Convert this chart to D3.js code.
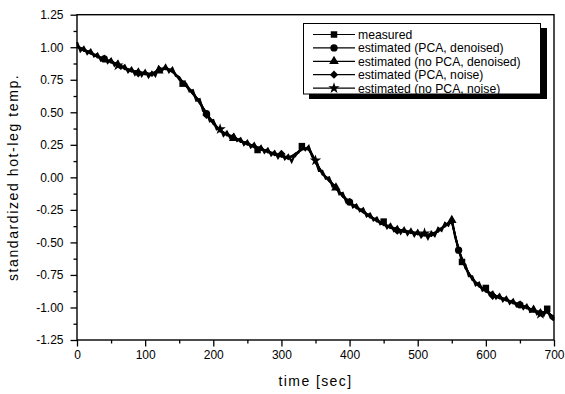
<html>
<head><meta charset="utf-8"></head>
<script src="https://d3js.org/d3.v7.min.js"></script>
<style>
  body { margin: 0; background: #fff; }
  text { font-family: "Liberation Sans", Arial, sans-serif; fill: #000; }
</style>
<body>
<svg id="chart" width="565" height="394"></svg>
<script>
// measured signal, every 5 s from 0 to 700
var measured = [
  1.04,0.97,1.00,0.95,0.98,0.93,0.95,0.90,0.93,0.88,
  0.91,0.86,0.89,0.84,0.86,0.81,0.84,0.79,0.83,0.78,
  0.82,0.77,0.81,0.78,0.85,0.82,0.86,0.81,0.84,0.78,
  0.77,0.72,0.72,0.66,0.67,0.59,0.60,0.51,0.50,0.43,
  0.44,0.37,0.38,0.32,0.35,0.30,0.33,0.28,0.30,0.25,
  0.28,0.23,0.26,0.21,0.24,0.19,0.22,0.17,0.20,0.15,
  0.19,0.14,0.17,0.12,0.18,0.19,0.24,0.21,0.24,0.16,
  0.13,0.05,0.05,-0.01,0.00,-0.07,-0.06,-0.13,-0.12,-0.19,
  -0.17,-0.23,-0.21,-0.26,-0.24,-0.30,-0.28,-0.33,-0.31,-0.36,
  -0.34,-0.39,-0.36,-0.41,-0.38,-0.43,-0.39,-0.44,-0.40,-0.45,
  -0.41,-0.46,-0.42,-0.47,-0.42,-0.45,-0.39,-0.41,-0.35,-0.37,
  -0.32,-0.46,-0.55,-0.65,-0.67,-0.76,-0.76,-0.83,-0.81,-0.87,
  -0.85,-0.90,-0.88,-0.93,-0.90,-0.95,-0.92,-0.97,-0.94,-0.99,
  -0.96,-1.01,-0.98,-1.03,-1.00,-1.05,-1.02,-1.06,-1.01,-1.08,
  -1.10
];

// estimates, every 10 s from 0 to 700
var estPcaDenoised = [
  1.01,0.98,0.96,0.93,0.91,0.89,0.87,0.84,0.82,0.81,
  0.80,0.79,0.83,0.84,0.82,0.76,0.71,0.65,0.58,0.49,
  0.42,0.36,0.33,0.31,0.28,0.26,0.24,0.22,0.20,0.18,
  0.17,0.15,0.17,0.22,0.22,0.12,0.03,-0.02,-0.08,-0.14,
  -0.19,-0.23,-0.26,-0.30,-0.33,-0.36,-0.38,-0.40,-0.41,-0.42,
  -0.43,-0.44,-0.44,-0.41,-0.37,-0.34,-0.56,-0.69,-0.78,-0.83,
  -0.87,-0.90,-0.92,-0.94,-0.96,-0.98,-1.00,-1.02,-1.04,-1.03,
  -1.08
];
var estNoPcaDenoised = [
  1.00,0.98,0.95,0.93,0.90,0.89,0.86,0.84,0.82,0.80,
  0.80,0.80,0.82,0.84,0.81,0.76,0.70,0.64,0.57,0.49,
  0.41,0.36,0.33,0.30,0.28,0.26,0.23,0.22,0.20,0.18,
  0.16,0.15,0.18,0.22,0.23,0.13,0.03,-0.03,-0.08,-0.15,
  -0.19,-0.23,-0.27,-0.30,-0.33,-0.36,-0.39,-0.40,-0.42,-0.42,
  -0.43,-0.44,-0.45,-0.41,-0.37,-0.33,-0.55,-0.70,-0.78,-0.84,
  -0.87,-0.90,-0.93,-0.94,-0.96,-0.98,-1.00,-1.02,-1.04,-1.04,
  -1.08
];
var estPcaNoise = [
  1.02,0.97,0.97,0.92,0.92,0.88,0.88,0.83,0.83,0.80,
  0.81,0.78,0.84,0.83,0.83,0.75,0.72,0.64,0.59,0.48,
  0.43,0.35,0.34,0.30,0.29,0.25,0.25,0.21,0.21,0.17,
  0.18,0.14,0.18,0.21,0.23,0.11,0.04,-0.03,-0.07,-0.15,
  -0.18,-0.24,-0.25,-0.31,-0.32,-0.37,-0.37,-0.41,-0.40,-0.43,
  -0.42,-0.45,-0.43,-0.42,-0.36,-0.35,-0.55,-0.70,-0.77,-0.84,
  -0.86,-0.91,-0.91,-0.95,-0.95,-0.99,-0.99,-1.03,-1.03,-1.04,
  -1.07
];
var estNoPcaNoise = [
  1.00,0.99,0.95,0.94,0.90,0.90,0.86,0.85,0.81,0.82,
  0.79,0.80,0.82,0.85,0.81,0.77,0.70,0.66,0.57,0.50,
  0.41,0.37,0.32,0.32,0.27,0.27,0.23,0.23,0.19,0.19,
  0.16,0.16,0.16,0.23,0.21,0.13,0.02,-0.01,-0.09,-0.13,
  -0.20,-0.22,-0.27,-0.29,-0.34,-0.35,-0.39,-0.39,-0.42,-0.41,
  -0.44,-0.43,-0.45,-0.40,-0.38,-0.33,-0.57,-0.68,-0.79,-0.82,
  -0.88,-0.89,-0.93,-0.93,-0.97,-0.97,-1.01,-1.01,-1.05,-1.02,
  -1.09
];

// times (s) where each series shows its symbol
var markTimesMeasured = [155, 265, 330, 450, 565, 600, 690];
var markTimesPcaDen = [40, 190, 400, 560, 650];
var markTimesNoPcaDen = [120, 230, 380, 550, 670];
var markTimesPcaNoise = [90, 190, 300, 470, 610];
var markTimesNoPcaNoise = [60, 210, 350, 510, 680];

var seriesNames = ["measured", "estimated (PCA, denoised)", "estimated (no PCA, denoised)",
                   "estimated (PCA, noise)", "estimated (no PCA, noise)"];
var xTicks = [0, 100, 200, 300, 400, 500, 600, 700];
var yTicks = [-1.25, -1.00, -0.75, -0.50, -0.25, 0.00, 0.25, 0.50, 0.75, 1.00, 1.25];

var svg = d3.select("#chart");
var pL = 77, pR = 554, pT = 14.7, pB = 340;

var x = d3.scaleLinear().domain([0, 700]).range([pL, pR]);
var y = d3.scaleLinear().domain([-1.25, 1.25]).range([pB, pT]);

function toPoints(vals, step) {
  return vals.map(function(v, i) { return {t: i * step, v: v}; });
}

var series = [
  {name: seriesNames[0], pts: toPoints(measured, 5), marks: markTimesMeasured, step: 5, sym: "square"},
  {name: seriesNames[1], pts: toPoints(estPcaDenoised, 10), marks: markTimesPcaDen, step: 10, sym: "circle"},
  {name: seriesNames[2], pts: toPoints(estNoPcaDenoised, 10), marks: markTimesNoPcaDen, step: 10, sym: "triangle"},
  {name: seriesNames[3], pts: toPoints(estPcaNoise, 10), marks: markTimesPcaNoise, step: 10, sym: "diamond"},
  {name: seriesNames[4], pts: toPoints(estNoPcaNoise, 10), marks: markTimesNoPcaNoise, step: 10, sym: "star"}
];

function symbolPath(kind) {
  if (kind == "square") return d3.symbol().type(d3.symbolSquare).size(42)();
  if (kind == "circle") return d3.symbol().type(d3.symbolCircle).size(42)();
  if (kind == "triangle") return d3.symbol().type(d3.symbolTriangle).size(40)();
  if (kind == "diamond") return d3.symbol().type(d3.symbolSquare).size(34)();
  return d3.symbol().type(d3.symbolStar).size(40)();
}
function symbolRotate(kind) { return kind == "diamond" ? " rotate(45)" : ""; }

// y axis with minor ticks
var yMinor = [-1.125, -0.875, -0.625, -0.375, -0.125, 0.125, 0.375, 0.625, 0.875, 1.125];
svg.append("g")
  .attr("transform", "translate(" + pL + ",0)")
  .call(d3.axisLeft(y).tickValues(yMinor).tickSize(3.5).tickFormat(""))
  .call(function(g) { g.select(".domain").remove(); });
var yAx = svg.append("g")
  .attr("transform", "translate(" + pL + ",0)")
  .call(d3.axisLeft(y).tickValues(yTicks).tickSize(6.5).tickPadding(7));
yAx.select(".domain").remove();
yAx.selectAll("text").style("font-size", "12px").style("font-family", "'Liberation Sans', Arial, sans-serif")
  .text(function(d) { return (d < 0 ? "-" : "") + d3.format(".2f")(Math.abs(d)); });

// x axis with minor ticks
var xMinor = [50, 150, 250, 350, 450, 550, 650];
svg.append("g")
  .attr("transform", "translate(0," + pB + ")")
  .call(d3.axisBottom(x).tickValues(xMinor).tickSize(3.5).tickFormat(""))
  .call(function(g) { g.select(".domain").remove(); });
var xAx = svg.append("g")
  .attr("transform", "translate(0," + pB + ")")
  .call(d3.axisBottom(x).tickValues(xTicks).tickSize(6.5).tickPadding(4));
xAx.select(".domain").remove();
xAx.selectAll("text").style("font-size", "12px").style("font-family", "'Liberation Sans', Arial, sans-serif");
svg.selectAll(".tick line").attr("stroke", "#000").attr("stroke-width", 1.3);

// frame
svg.append("rect")
  .attr("x", pL).attr("y", pT)
  .attr("width", pR - pL).attr("height", pB - pT)
  .attr("fill", "none").attr("stroke", "#000").attr("stroke-width", 1.4);

// lines
var line = d3.line().x(function(d) { return x(d.t); }).y(function(d) { return y(d.v); });
series.slice().reverse().forEach(function(s) {
  svg.append("path")
    .datum(s.pts)
    .attr("d", line)
    .attr("fill", "none")
    .attr("stroke", "#000")
    .attr("stroke-width", s.step == 5 ? 2.2 : 1.7)
    .attr("stroke-linejoin", "miter");
});

// symbols
series.forEach(function(s) {
  var byTime = {};
  s.pts.forEach(function(p) { byTime[p.t] = p.v; });
  svg.append("g").selectAll("path")
    .data(s.marks)
    .enter().append("path")
    .attr("d", symbolPath(s.sym))
    .attr("transform", function(t) { return "translate(" + x(t) + "," + y(byTime[t]) + ")" + symbolRotate(s.sym); })
    .attr("fill", "#000");
});

// legend
var lg = svg.append("g");
lg.append("rect").attr("x", 309).attr("y", 28).attr("width", 238).attr("height", 71).attr("fill", "#000");
lg.append("rect").attr("x", 303.5).attr("y", 23.5).attr("width", 237).attr("height", 70.5)
  .attr("fill", "#fff").attr("stroke", "#000").attr("stroke-width", 1);
var rows = lg.selectAll("g.row").data(series).enter().append("g")
  .attr("transform", function(d, i) { return "translate(0," + (34.5 + i * 13.4) + ")"; });
rows.append("line").attr("x1", 313).attr("x2", 355).attr("y1", 0).attr("y2", 0)
  .attr("stroke", "#000").attr("stroke-width", 1.2);
rows.append("path")
  .attr("d", function(d) { return symbolPath(d.sym); })
  .attr("transform", function(d) { return "translate(334,0)" + symbolRotate(d.sym); })
  .attr("fill", "#000");
rows.append("text").attr("x", 358).attr("y", 0).attr("dy", "0.36em")
  .style("font-size", "12.2px")
  .text(function(d) { return d.name; });

// axis titles
svg.append("text")
  .attr("x", (pL + pR) / 2).attr("y", 386)
  .attr("text-anchor", "middle")
  .style("font-size", "14px").style("letter-spacing", "1.4px")
  .text("time [sec]");
svg.append("text")
  .attr("transform", "translate(18," + ((pT + pB) / 2) + ") rotate(-90)")
  .attr("text-anchor", "middle")
  .style("font-size", "14px").style("letter-spacing", "1.6px")
  .text("standardized hot-leg temp.");
</script>
</body>
</html>
